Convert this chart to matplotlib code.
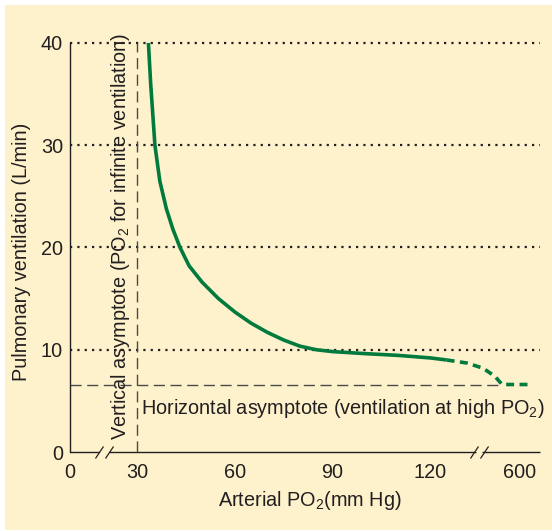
import numpy as np
import matplotlib
matplotlib.use('Agg')
import matplotlib.pyplot as plt
from matplotlib.path import Path
from matplotlib.patches import Rectangle

plt.rcParams['font.family'] = ['Liberation Sans', 'DejaVu Sans']
plt.rcParams['mathtext.fontset'] = 'custom'
plt.rcParams['mathtext.rm'] = 'Liberation Sans'
plt.rcParams['mathtext.it'] = 'Liberation Sans'

# curve (arterial PO2 in mm Hg, ventilation in L/min)
po2_solid = [33.5, 34.2, 35.5, 37, 39, 41, 43.2, 46, 50, 55, 60, 65, 70, 75, 80, 85, 90, 100, 110, 120, 125]
vent_solid = [40, 36, 30, 26.5, 23.8, 21.8, 20, 18.2, 16.6, 15.0, 13.7, 12.6, 11.7, 10.95, 10.35, 10.0, 9.82, 9.62, 9.45, 9.2, 9.0]
po2_dashed = [125, 163, 295, 394, 452, 683]
vent_dashed = [9.0, 8.7, 8.2, 7.4, 6.6, 6.6]

x_ticks = [0, 30, 60, 90, 120, 600]
y_ticks = [0, 10, 20, 30, 40]
vert_asym = 30
horiz_asym = 6.6

# broken x axis: compress 0-30 and 130-600
XP = [0, 30, 130, 600, 800]
UP = [0, 67, 393, 450, 474]
def fwd(x):
    return np.interp(x, XP, UP)
def inv(u):
    return np.interp(u, UP, XP)

dark = '#231f20'
green = '#007a3d'
bg = '#fef2cc'
fs = 14.3

fig = plt.figure(figsize=(5.52, 5.31), dpi=100)
fig.patch.set_facecolor('white')
fig.patches.append(Rectangle((5/552, 1/531), 547/552, 525/531, transform=fig.transFigure,
                             facecolor=bg, edgecolor='none', zorder=-10))
ax = fig.add_axes([70/552, 1-452/531, 470/552, 409/531])
ax.set_facecolor('none')
ax.set_xscale('function', functions=(fwd, inv))
ax.set_xlim(0, 767)
ax.set_ylim(0, 40)

for s in ['top', 'right', 'bottom']:
    ax.spines[s].set_visible(False)
ax.spines['left'].set_color(dark)
ax.spines['left'].set_linewidth(1.0)

# dotted grid lines
ax.hlines([10, 20, 30, 40], 0, 767, colors=dark, linestyles=(0, (1, 2.3)), lw=1.6, clip_on=False)

# bottom axis with breaks
for a, b in [(0, 13), (17.5, 238), (286, 767)]:
    ax.plot([a, b], [0, 0], color=dark, lw=1.0, clip_on=False, solid_capstyle='butt')
brk = Path([(-9, -6), (-1, 6), (1, -6), (9, 6)], [Path.MOVETO, Path.LINETO, Path.MOVETO, Path.LINETO])
ax.plot([15.2, 262], [0, 0], ls='none', marker=brk, markersize=13, mec=dark, mew=0.9, clip_on=False)

# asymptotes
ax.plot([vert_asym, vert_asym], [0, 40], color='#4a4a4a', lw=1.0, ls=(0, (8, 4)))
ax.plot([0, 460], [horiz_asym, horiz_asym], color='#4a4a4a', lw=1.0, ls=(0, (8, 4)))

# curve
ax.plot(po2_solid, vent_solid, color=green, lw=2.6, clip_on=False, solid_capstyle='butt',
        solid_joinstyle='round')
ax.plot(po2_dashed, vent_dashed, color=green, lw=2.6, ls=(0, (2.2, 1.5)), clip_on=False)

ax.set_xticks(x_ticks)
ax.set_xticklabels([str(t) for t in x_ticks])
ax.set_yticks(y_ticks)
ax.minorticks_off()
ax.tick_params(axis='both', length=0, labelsize=fs, labelcolor=dark)
ax.tick_params(axis='x', pad=8)
ax.tick_params(axis='y', pad=5)

ax.set_xlabel('Arterial PO$_2$(mm Hg)', fontsize=fs, color=dark)
ax.xaxis.set_label_coords(0.51, -0.09)
ax.set_ylabel('Pulmonary ventilation (L/min)', fontsize=fs, color=dark)
ax.yaxis.set_label_coords(-0.083, 0.49)

ax.text(22.5, 21.1, 'Vertical asymptote (PO$_2$ for infinite ventilation)', rotation=90,
        ha='center', va='center', fontsize=fs, color=dark)
ax.text(31.2, 4.3, 'Horizontal asymptote (ventilation at high PO$_2$)',
        ha='left', va='center', fontsize=fs, color=dark)

fig.savefig('out.png', dpi=100)
